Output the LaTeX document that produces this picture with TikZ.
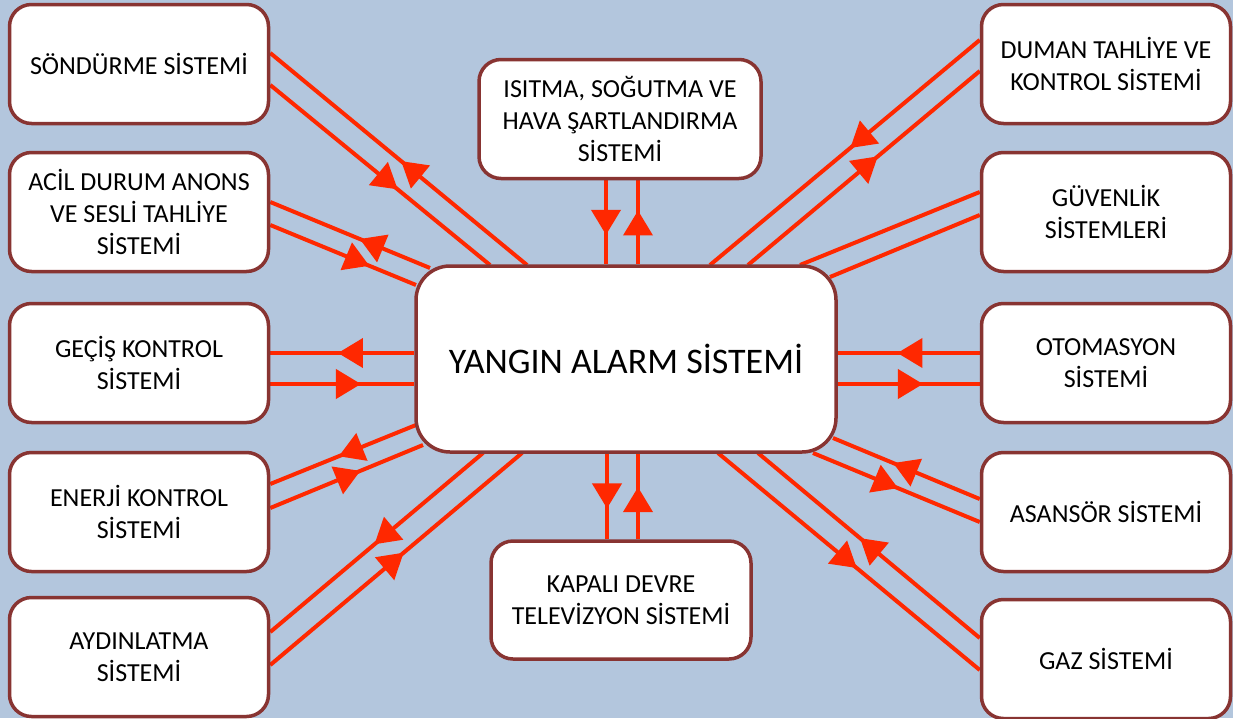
\documentclass[tikz,border=0pt]{standalone}
\usepackage{fontspec}
\setmainfont{Carlito}
\usetikzlibrary{arrows.meta,calc,decorations.markings,backgrounds}
\definecolor{bgblue}{RGB}{179,198,221}
\definecolor{boxline}{RGB}{136,52,50}
\definecolor{linkred}{RGB}{255,40,0}
\tikzset{
  sysbox/.style={rectangle,draw=boxline,line width=3.5pt,fill=white,rounded corners=22pt,
    align=center,inner sep=0pt,font=\fontsize{26}{32}\selectfont},
  leftbox/.style={sysbox,minimum width=259pt,minimum height=119pt},
  rightbox/.style={sysbox,minimum width=249pt,minimum height=119pt},
  link/.style={draw=linkred,line width=4pt},
  headtip/.tip={Triangle[length=25pt,width=29pt]},
  tocenter/.style={postaction={decorate,decoration={markings,
    mark=at position #1 with {\arrow[linkred]{headtip}}}}},
  tobox/.style={postaction={decorate,decoration={markings,
    mark=at position #1 with {\arrowreversed[linkred]{headtip}}}}}
}
\begin{document}
\begin{tikzpicture}[x=1pt,y=-1pt]
            \useasboundingbox (0,0) rectangle (1233,718);

            \node[sysbox,rounded corners=34pt,minimum width=420pt,minimum height=186pt,
                font=\fontsize{36}{44}\selectfont]
            	(yas) 		at (626,359) {YANGIN ALARM SİSTEMİ};

            \node[leftbox]
            	(son) 		at (139,64) {SÖNDÜRME SİSTEMİ};
            \node[leftbox]
            	(acil) 		at (139,212) {ACİL DURUM ANONS\\VE SESLİ TAHLİYE\\SİSTEMİ};
            \node[leftbox]
            	(gecis) 	at (139,363) {GEÇİŞ KONTROL\\SİSTEMİ};
            \node[leftbox]
            	(enerji) 	at (139,512) {ENERJİ KONTROL\\SİSTEMİ};
            \node[leftbox]
            	(aydin) 	at (139,657) {AYDINLATMA\\SİSTEMİ};

            \node[sysbox,minimum width=282pt,minimum height=119pt]
            	(isitma) 	at (620,119) {ISITMA, SOĞUTMA VE\\HAVA ŞARTLANDIRMA\\SİSTEMİ};
            \node[sysbox,minimum width=260pt,minimum height=118pt]
            	(kapali) 	at (621,600) {KAPALI DEVRE\\TELEVİZYON SİSTEMİ};

            \node[rightbox]
            	(duman) 	at (1106,64) {DUMAN TAHLİYE VE\\KONTROL SİSTEMİ};
            \node[rightbox]
            	(guven) 	at (1106,212) {GÜVENLİK\\SİSTEMLERİ};
            \node[rightbox]
            	(otom) 		at (1106,363) {OTOMASYON\\SİSTEMİ};
            \node[rightbox]
            	(asans) 	at (1106,512) {ASANSÖR SİSTEMİ};
            \node[rightbox]
            	(gaz) 		at (1106,659) {GAZ SİSTEMİ};

            \coordinate (it1) at ($(isitma.south)+(-14,0)$);
            \coordinate (it2) at ($(isitma.south)+(18,0)$);
            \coordinate (kd1) at ($(kapali.north)+(-14,0)$);
            \coordinate (kd2) at ($(kapali.north)+(17,0)$);

            \begin{scope}[on background layer]
                \fill[bgblue] (0,0) rectangle (1233,718);

                \draw[link,tobox=.51]    ($(son.east)+(0,-11)$)    -- ($(yas.center)+(-99,-94)$);
                \draw[link,tocenter=.58] ($(son.east)+(0,21)$)     -- ($(yas.center)+(-136,-94)$);
                \draw[link,tobox=.56]    ($(acil.east)+(0,-10)$)   -- ($(yas.center)+(-196,-91)$);
                \draw[link,tocenter=.68] ($(acil.east)+(0,13)$)    -- ($(yas.center)+(-210,-74)$);
                \draw[link,tobox=.47]    ($(gecis.east)+(0,-10)$)  -- ($(yas.west)+(0,-6)$);
                \draw[link,tocenter=.63] ($(gecis.east)+(0,21)$)   -- ($(yas.west)+(0,25)$);
                \draw[link,tobox=.47]    ($(enerji.east)+(0,-28)$) -- ($(yas.center)+(-210,66)$);
                \draw[link,tocenter=.59] ($(enerji.east)+(0,-4)$)  -- ($(yas.center)+(-203,86)$);
                \draw[link,tobox=.49]    ($(aydin.east)+(0,-25)$)  -- ($(yas.center)+(-143,94)$);
                \draw[link,tocenter=.53] ($(aydin.east)+(0,8)$)    -- ($(yas.center)+(-104,94)$);

                \draw[link,tocenter=.65] (it1) -- (it1 |- yas.north);
                \draw[link,tobox=.36]    (it2) -- (it2 |- yas.north);
                \draw[link,tobox=.36]    (kd1) -- (kd1 |- yas.south);
                \draw[link,tocenter=.61] (kd2) -- (kd2 |- yas.south);

                \draw[link,tocenter=.48] ($(duman.west)+(0,-24)$) -- ($(yas.center)+(84,-94)$);
                \draw[link,tobox=.44]    ($(duman.west)+(0,7)$)   -- ($(yas.center)+(122,-94)$);
                \draw[link]              ($(guven.west)+(0,-20)$) -- ($(yas.center)+(174,-94)$);
                \draw[link]              ($(guven.west)+(0,3)$)   -- ($(yas.center)+(204,-82)$);
                \draw[link,tocenter=.58] ($(otom.west)+(0,-10)$)  -- ($(yas.east)+(0,-6)$);
                \draw[link,tobox=.40]    ($(otom.west)+(0,21)$)   -- ($(yas.east)+(0,25)$);
                \draw[link,tocenter=.59] ($(asans.west)+(0,-13)$) -- ($(yas.center)+(207,79)$);
                \draw[link,tobox=.49]    ($(asans.west)+(0,10)$)  -- ($(yas.center)+(187,94)$);
                \draw[link,tocenter=.54] ($(gaz.west)+(0,-21)$)   -- ($(yas.center)+(132,94)$);
                \draw[link,tobox=.47]    ($(gaz.west)+(0,11)$)    -- ($(yas.center)+(92,94)$);
            \end{scope}
        \end{tikzpicture}
\end{document}
